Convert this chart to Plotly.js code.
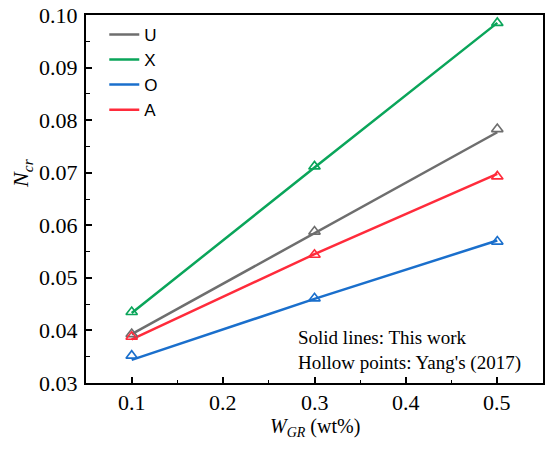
<!DOCTYPE html>
<html>
<head>
<meta charset="utf-8">
<script src="https://cdn.plot.ly/plotly-3.0.1.min.js"></script>
<style>html,body{margin:0;padding:0;background:#fff;}#chart{width:550px;height:454px;}</style>
</head>
<body>
<div id="chart"></div>
<script>
// W_GR (wt%)
const wGR = [0.1, 0.3, 0.5];
// Solid lines: This work
const lineU = [0.0393, 0.0585, 0.0777];
const lineX = [0.0433, 0.0710, 0.0985];
const lineO = [0.0344, 0.0460, 0.0571];
const lineA = [0.0383, 0.0545, 0.0698];
// Hollow points: Yang's (2017)
const ptsU = [0.0393, 0.0588, 0.0783];
const ptsX = [0.0435, 0.0712, 0.0985];
const ptsO = [0.0352, 0.0461, 0.0569];
const ptsA = [0.0388, 0.0544, 0.0693];
// tick values and labels
const xMajorTicks = [0.1, 0.2, 0.3, 0.4, 0.5];
const xMajorLabels = ['0.1', '0.2', '0.3', '0.4', '0.5'];
const xMinorTicks = [0.15, 0.25, 0.35, 0.45];
const yMajorTicks = [0.03, 0.04, 0.05, 0.06, 0.07, 0.08, 0.09, 0.10];
const yMajorLabels = ['0.03', '0.04', '0.05', '0.06', '0.07', '0.08', '0.09', '0.10'];
const yMinorTicks = [0.035, 0.045, 0.055, 0.065, 0.075, 0.085, 0.095];

const seriesNames = ['U', 'X', 'O', 'A'];
const seriesColors = ['#6e6e6e', '#0aa55a', '#1a6fcc', '#ff2b3b'];
const lineData = [lineU, lineX, lineO, lineA];
const ptsData = [ptsU, ptsX, ptsO, ptsA];

const serif = 'Liberation Serif';

const traces = [];
for (let i = 0; i < seriesNames.length; i++) {
  traces.push({
    x: wGR, y: lineData[i], type: 'scatter', mode: 'lines', name: seriesNames[i],
    line: {color: seriesColors[i], width: 2.5}, showlegend: true
  });
}
for (let i = 0; i < seriesNames.length; i++) {
  traces.push({
    x: wGR, y: ptsData[i], type: 'scatter', mode: 'markers', name: seriesNames[i] + ' (Yang)',
    marker: {symbol: 'triangle-up-open', size: 10, color: seriesColors[i], line: {width: 1.6, color: seriesColors[i]}},
    showlegend: false
  });
}
// empty trace that only creates the overlay subplot used for minor ticks
traces.push({x: [], y: [], xaxis: 'x2', yaxis: 'y2', type: 'scatter', mode: 'lines', showlegend: false, hoverinfo: 'skip'});

// tick labels drawn as serif annotations placed through the axis scales
const tickAnnotations = [];
xMajorTicks.forEach(function (v, i) {
  tickAnnotations.push({text: xMajorLabels[i], xref: 'x', yref: 'paper', x: v, y: 0,
    xanchor: 'center', yanchor: 'top', yshift: -5, showarrow: false,
    font: {family: serif, size: 22, color: '#000'}});
});
yMajorTicks.forEach(function (v, i) {
  tickAnnotations.push({text: yMajorLabels[i], xref: 'paper', yref: 'y', x: 0, y: v,
    xanchor: 'right', yanchor: 'middle', xshift: -6, showarrow: false,
    font: {family: serif, size: 22, color: '#000'}});
});

const xRange = [0.05, 0.55];
const yRange = [0.03, 0.10];
const layout = {
  width: 550, height: 454,
  margin: {l: 86, r: 7, t: 15, b: 71},
  paper_bgcolor: '#fff', plot_bgcolor: '#fff',
  font: {family: serif, size: 22, color: '#000'},
  showlegend: true,
  legend: {
    x: 0.04, y: 0.995, xanchor: 'left', yanchor: 'top',
    bgcolor: 'rgba(0,0,0,0)', borderwidth: 0,
    font: {family: 'Liberation Sans', size: 17, color: '#000'},
    tracegroupgap: 0, itemwidth: 30
  },
  xaxis: {
    range: xRange, tickmode: 'array', tickvals: xMajorTicks, showticklabels: false,
    ticks: 'inside', ticklen: 6, tickwidth: 1.5, tickcolor: '#000',
    showline: true, linecolor: '#000', linewidth: 1.5, mirror: true,
    showgrid: false, zeroline: false
  },
  yaxis: {
    range: yRange, tickmode: 'array', tickvals: yMajorTicks, showticklabels: false,
    ticks: 'inside', ticklen: 6, tickwidth: 1.5, tickcolor: '#000',
    showline: true, linecolor: '#000', linewidth: 1.5, mirror: true,
    showgrid: false, zeroline: false
  },
  xaxis2: {
    overlaying: 'x', anchor: 'y2', side: 'bottom', range: xRange, tickmode: 'array', tickvals: xMinorTicks,
    ticks: 'inside', ticklen: 3.5, tickwidth: 1.2, tickcolor: '#000', showticklabels: false,
    showline: false, showgrid: false, zeroline: false
  },
  yaxis2: {
    overlaying: 'y', anchor: 'x2', side: 'left', range: yRange, tickmode: 'array', tickvals: yMinorTicks,
    ticks: 'inside', ticklen: 3.5, tickwidth: 1.2, tickcolor: '#000', showticklabels: false,
    showline: false, showgrid: false, zeroline: false
  },
  annotations: tickAnnotations.concat([
    {text: '<i>W</i><sub><i>GR</i></sub> (wt%)', xref: 'paper', yref: 'paper', x: 0.5, y: -0.12,
     xanchor: 'center', yanchor: 'middle', showarrow: false, font: {family: serif, size: 20, color: '#000'}},
    {text: '<i>N</i><sub><i>cr</i></sub>', xref: 'paper', yref: 'paper', x: -0.14, y: 0.571,
     xanchor: 'center', yanchor: 'middle', textangle: -90, showarrow: false, font: {family: serif, size: 22, color: '#000'}},
    {text: 'Solid lines: This work<br>Hollow points: Yang\'s (2017)', xref: 'paper', yref: 'paper', x: 0.46, y: 0.02,
     xanchor: 'left', yanchor: 'bottom', align: 'left', showarrow: false, font: {family: serif, size: 19, color: '#000'}}
  ])
};

Plotly.newPlot('chart', traces, layout, {displayModeBar: false});
</script>
</body>
</html>
